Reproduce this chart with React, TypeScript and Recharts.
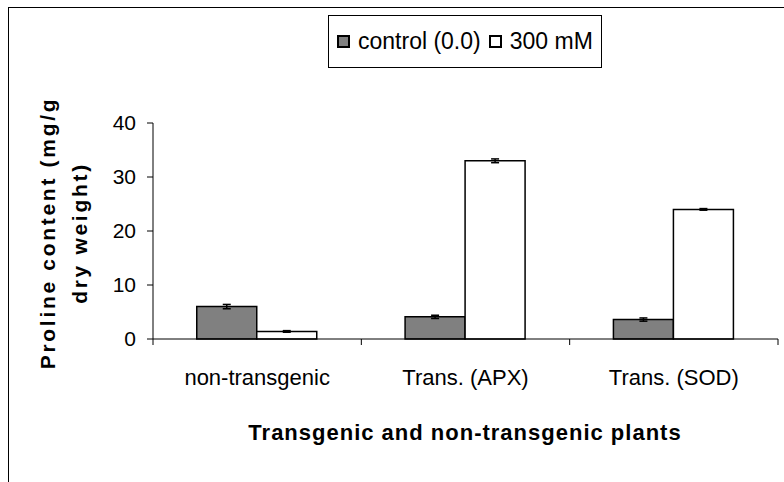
import React from 'react';
import { BarChart, Bar, XAxis, YAxis, Legend, ErrorBar } from 'recharts';

// Proline content by plant type
const categories = ['non-transgenic', 'Trans. (APX)', 'Trans. (SOD)'];
const controlValues = [6.0, 4.1, 3.6];
const controlErrors = [0.4, 0.3, 0.3];
const saltValues = [1.4, 33.0, 24.0];
const saltErrors = [0.15, 0.35, 0.15];
const yTicks = [0, 10, 20, 30, 40];
const seriesNames = ['control (0.0)', '300 mM'];
const seriesFills = ['#808080', '#ffffff'];

const data = categories.map((name, i) => ({
    name,
    control: controlValues[i],
    controlErr: controlErrors[i],
    salt: saltValues[i],
    saltErr: saltErrors[i],
}));

const W = 784;
const H = 482;
const X_AXIS_H = 30;
const MARGIN = { top: 123, right: 6, bottom: 143 - X_AXIS_H, left: 0 };
const AXIS_Y = H - 143;
const FONT = '"Liberation Sans", Arial, sans-serif';

// category label in the middle, tick marks on the category borders
const CategoryTick = (props: any) => {
    const { x, payload, index } = props;
    const half = payload?.offset || 104;
    return (
        <g>
            <line x1={x - half} x2={x - half} y1={AXIS_Y} y2={AXIS_Y + 6} stroke="#000" strokeWidth={1} />
            {index === categories.length - 1 && (
                <line x1={x + half} x2={x + half} y1={AXIS_Y} y2={AXIS_Y + 6} stroke="#000" strokeWidth={1} />
            )}
            <text x={x} y={AXIS_Y + 46} textAnchor="middle" fontFamily={FONT} fontSize={22} fill="#000">
                {payload.value}
            </text>
        </g>
    );
};

const YTitle = () => (
    <g fontFamily={FONT} fontSize={21} fontWeight="bold" fill="#000" letterSpacing={2.7}>
        <text transform="translate(55,233) rotate(-90)" textAnchor="middle">Proline content (mg/g</text>
        <text transform="translate(87,233) rotate(-90)" textAnchor="middle">dry weight)</text>
    </g>
);

const XTitle = () => (
    <text x={465} y={440} textAnchor="middle" fontFamily={FONT} fontSize={22} fontWeight="bold" letterSpacing={1} fill="#000">
        Transgenic and non-transgenic plants
    </text>
);

const renderLegend = () => (
    <div style={{ width: 274, height: 53, boxSizing: 'border-box', border: '1px solid #000', display: 'flex', alignItems: 'center', paddingLeft: 8, fontFamily: FONT, fontSize: 23, color: '#000', background: '#fff' }}>
        {seriesNames.map((name, i) => (
            <div key={name} style={{ display: 'flex', alignItems: 'center', marginRight: 8 }}>
                <span style={{ width: 13, height: 13, boxSizing: 'border-box', border: '2px solid #000', background: seriesFills[i], marginRight: 8 }} />
                <span>{name}</span>
            </div>
        ))}
    </div>
);

export default function App() {
    return (
        <div style={{ position: 'absolute', left: 0, top: 0, width: W, height: H, background: '#fff' }}>
            {/* outer frame */}
            <div style={{ position: 'absolute', left: 8, top: 7, width: W - 8, height: H - 7, borderLeft: '1px solid #000', borderTop: '1px solid #000' }} />
            <div style={{ position: 'absolute', left: 0, top: 0 }}>
                <BarChart width={W} height={H} data={data} margin={MARGIN} barCategoryGap="21%" barGap={0}>
                    <XAxis
                        dataKey="name"
                        height={X_AXIS_H}
                        axisLine={{ stroke: '#000', strokeWidth: 1 }}
                        tickLine={false}
                        tick={<CategoryTick />}
                        interval={0}
                        label={{ content: () => <XTitle /> }}
                    />
                    <YAxis
                        domain={[0, 40]}
                        ticks={yTicks}
                        width={153}
                        axisLine={{ stroke: '#000', strokeWidth: 1 }}
                        tickLine={{ stroke: '#000', strokeWidth: 1 }}
                        tickSize={6}
                        tickMargin={11}
                        tick={{ fill: '#000', fontSize: 21, fontFamily: FONT }}
                        label={{ content: () => <YTitle /> }}
                    />
                    <Legend
                        layout="horizontal"
                        verticalAlign="middle"
                        align="center"
                        content={renderLegend}
                        wrapperStyle={{ top: 15, left: 328, width: 274, height: 53 }}
                    />
                    <Bar dataKey="control" name={seriesNames[0]} fill={seriesFills[0]} stroke="#000" strokeWidth={1.5} isAnimationActive={false}>
                        <ErrorBar dataKey="controlErr" width={4} stroke="#000" strokeWidth={1.5} direction="y" />
                    </Bar>
                    <Bar dataKey="salt" name={seriesNames[1]} fill={seriesFills[1]} stroke="#000" strokeWidth={1.5} isAnimationActive={false}>
                        <ErrorBar dataKey="saltErr" width={4} stroke="#000" strokeWidth={1.5} direction="y" />
                    </Bar>
                </BarChart>
            </div>
        </div>
    );
}
